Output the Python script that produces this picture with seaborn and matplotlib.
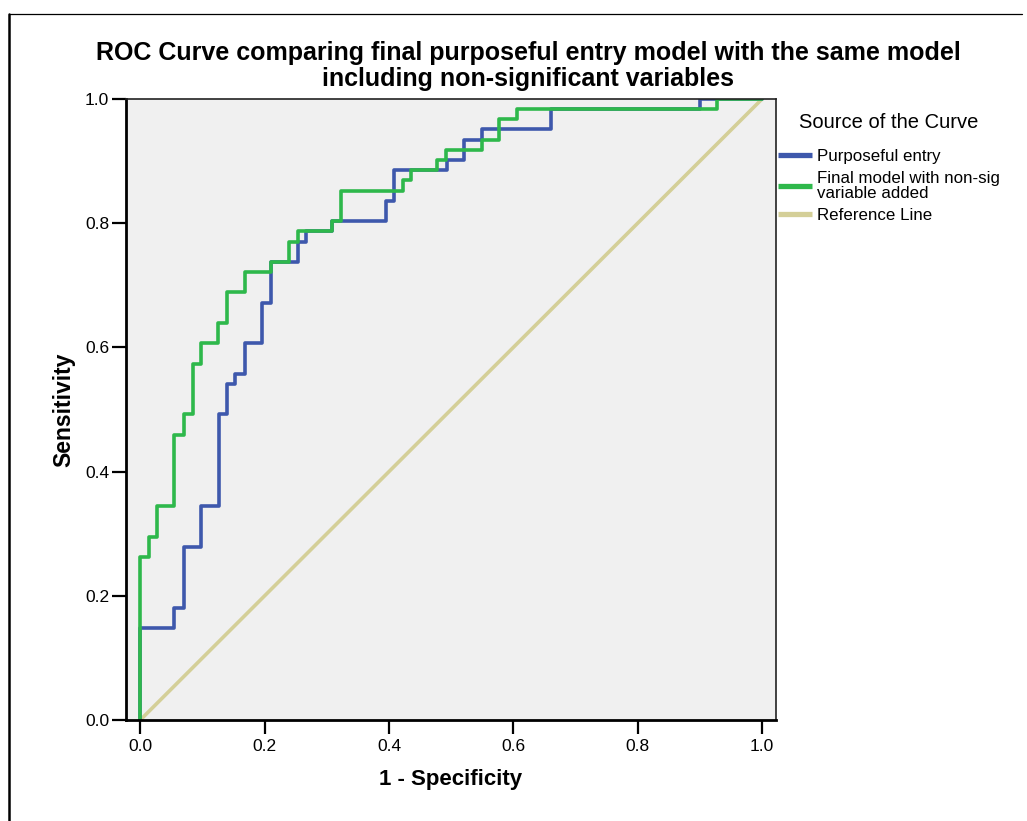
import numpy as np
import pandas as pd
import matplotlib
matplotlib.use("Agg")
import matplotlib.pyplot as plt
import seaborn as sns
from matplotlib.lines import Line2D

# ---------------- data ----------------
purposeful_fpr = [0.0, 0.0, 0.055, 0.055, 0.070, 0.070, 0.097, 0.097, 0.126, 0.126,
                  0.140, 0.140, 0.153, 0.153, 0.168, 0.168, 0.196, 0.196, 0.210, 0.210,
                  0.253, 0.253, 0.266, 0.266, 0.309, 0.309, 0.395, 0.395, 0.408, 0.408,
                  0.494, 0.494, 0.520, 0.520, 0.549, 0.549, 0.661, 0.661, 0.900, 0.900, 1.0]
purposeful_tpr = [0.0, 0.148, 0.148, 0.180, 0.180, 0.279, 0.279, 0.344, 0.344, 0.492,
                  0.492, 0.541, 0.541, 0.557, 0.557, 0.607, 0.607, 0.672, 0.672, 0.738,
                  0.738, 0.770, 0.770, 0.787, 0.787, 0.803, 0.803, 0.836, 0.836, 0.885,
                  0.885, 0.902, 0.902, 0.934, 0.934, 0.951, 0.951, 0.984, 0.984, 1.0, 1.0]

final_fpr = [0.0, 0.0, 0.014, 0.014, 0.027, 0.027, 0.055, 0.055, 0.070, 0.070,
             0.084, 0.084, 0.097, 0.097, 0.125, 0.125, 0.140, 0.140, 0.168, 0.168,
             0.210, 0.210, 0.239, 0.239, 0.253, 0.253, 0.309, 0.309, 0.323, 0.323,
             0.422, 0.422, 0.435, 0.435, 0.478, 0.478, 0.491, 0.491, 0.549, 0.549,
             0.577, 0.577, 0.606, 0.606, 0.928, 0.928, 1.0]
final_tpr = [0.0, 0.262, 0.262, 0.295, 0.295, 0.344, 0.344, 0.459, 0.459, 0.492,
             0.492, 0.574, 0.574, 0.607, 0.607, 0.639, 0.639, 0.689, 0.689, 0.721,
             0.721, 0.738, 0.738, 0.770, 0.770, 0.787, 0.787, 0.803, 0.803, 0.852,
             0.852, 0.869, 0.869, 0.885, 0.885, 0.902, 0.902, 0.918, 0.918, 0.934,
             0.934, 0.967, 0.967, 0.984, 0.984, 1.0, 1.0]

reference_fpr = [0.0, 1.0]
reference_tpr = [0.0, 1.0]

series_names = ["Purposeful entry",
                "Final model with non-sig\nvariable added",
                "Reference Line"]
tick_values = [0.0, 0.2, 0.4, 0.6, 0.8, 1.0]
tick_labels = ["0.0", "0.2", "0.4", "0.6", "0.8", "1.0"]

title_text = ("ROC Curve comparing final purposeful entry model with the same model\n"
              "including non-significant variables")
x_label = "1 - Specificity"
y_label = "Sensitivity"
legend_title = "Source of the Curve"

colors = ["#3E58AC", "#2EB84B", "#D4CF98"]

# ---------------- plotting ----------------
sns.set_style("white")
plt.rcParams["font.family"] = ["Liberation Sans", "DejaVu Sans"]
plt.rcParams["text.color"] = "black"
plt.rcParams["axes.labelcolor"] = "black"

fig = plt.figure(figsize=(10.27, 8.21), dpi=100)
ax = fig.add_axes([126 / 1027, 1 - 720 / 821, 650 / 1027, 621 / 821])
ax.set_facecolor("#F0F0F0")

df_ref = pd.DataFrame({"fpr": reference_fpr, "tpr": reference_tpr})
df_p = pd.DataFrame({"fpr": purposeful_fpr, "tpr": purposeful_tpr})
df_f = pd.DataFrame({"fpr": final_fpr, "tpr": final_tpr})

lw = 2.6
sns.lineplot(data=df_ref, x="fpr", y="tpr", color=colors[2], lw=lw, sort=False,
             estimator=None, ax=ax, legend=False)
sns.lineplot(data=df_p, x="fpr", y="tpr", color=colors[0], lw=lw, sort=False,
             estimator=None, ax=ax, legend=False)
sns.lineplot(data=df_f, x="fpr", y="tpr", color=colors[1], lw=lw, sort=False,
             estimator=None, ax=ax, legend=False)

ax.set_xlim(-0.023, 1.0225)
ax.set_ylim(0, 1)
ax.set_xticks(tick_values)
ax.set_xticklabels(tick_labels)
ax.set_yticks(tick_values)
ax.set_yticklabels(tick_labels)
ax.tick_params(axis="both", which="major", bottom=True, left=True,
               direction="out", length=10, width=1.6, color="black",
               labelsize=12.5, labelcolor="black")
ax.tick_params(axis="x", pad=4)
ax.tick_params(axis="y", pad=2)

for side in ["left", "bottom"]:
    ax.spines[side].set_color("black")
    ax.spines[side].set_linewidth(2)
for side in ["top", "right"]:
    ax.spines[side].set_color("#222222")
    ax.spines[side].set_linewidth(1.2)

ax.set_xlabel(x_label, fontsize=16, fontweight="bold", va="center")
ax.xaxis.set_label_coords(0.5, (720 - 779) / 621)
ax.set_ylabel(y_label, fontsize=16.5, fontweight="bold", va="center")
ax.yaxis.set_label_coords((64 - 126) / 650, 0.5)

fig.text(0.514, 1 - 66 / 821, title_text, ha="center", va="center",
         fontsize=18, fontweight="bold", linespacing=1.12)

handles = [Line2D([0], [0], color=c, lw=3.8, solid_capstyle="butt") for c in colors]
leg = fig.legend(handles, series_names, loc="upper left",
                 bbox_to_anchor=(778 / 1027, 1 - 113 / 821), frameon=False,
                 title=legend_title, title_fontsize=14.5, fontsize=12.2,
                 handlelength=2.0, handletextpad=0.3, labelspacing=0.45,
                 borderaxespad=0, borderpad=0)
for t in leg.get_texts():
    t.set_linespacing(0.95)
leg._legend_box.align = "center"
leg._legend_box.sep = 12

# outer frame of the original output
fig.add_artist(Line2D([9 / 1027, 9 / 1027], [0, 1 - 14 / 821], color="black",
                      lw=1.8, transform=fig.transFigure))
fig.add_artist(Line2D([9 / 1027, 1022 / 1027], [1 - 14 / 821, 1 - 14 / 821],
                      color="black", lw=0.9, transform=fig.transFigure))

fig.savefig("out.png", dpi=100)
